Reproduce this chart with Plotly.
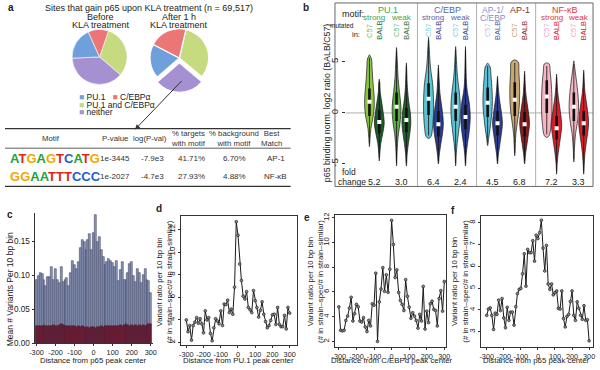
import plotly.graph_objects as go

W, H = 600, 370
FONT = "Liberation Sans, Arial, Helvetica, sans-serif"


def px(x, y):
    return x / W, 1 - y / H


def pxx(x):
    return x / W


def pxy(y):
    return 1 - y / H


# ---------------- Panel a data ----------------
pie_labels = ["PU.1 and C/EBPα", "neither", "PU.1", "C/EBPα"]
pie_before = [31, 38, 19, 12]
pie_after = [32.5, 27.5, 19, 21]
pie_colors = ["#c6da80", "#a591d1", "#6fa0dc", "#eb7676"]

table_headers = ["Motif", "P-value", "log(P-val)", "% targets<br>with motif",
                 "% background<br>with motif", "Best<br>Match"]
motif_seqs = ["ATGAGTCATG", "GGAATTTCCC"]
p_values = ["1e-3445", "1e-2027"]
log_p = ["-7.9e3", "-4.7e3"]
pct_targets = ["41.71%", "27.93%"]
pct_background = ["6.70%", "4.88%"]
best_match = ["AP-1", "NF-κB"]
base_colors = {"A": "#22a338", "C": "#1f62c8", "G": "#f4a700", "T": "#e2241e"}

# ---------------- Panel b data ----------------
group_names = ["PU.1", "C/EBP", "AP-1/<br>C/EBP", "AP-1", "NF-κB"]
group_box = [0, 1, 2, 2, 3]
pair_group = [0, 0, 1, 1, 2, 3, 4, 4]
pair_strength = ["strong", "weak", "strong", "weak", "", "", "strong", "weak"]
fold_change = [5.2, 3.0, 6.4, 2.4, 4.5, 6.8, 7.2, 3.3]
strain_labels = ["C57", "BALB"]
group_color = ["#3ea24c", "#5866a8", "#8a8cc8", "#8a2c1e", "#e2333b"]
c57_label_color = ["#7cc45a", "#7dcfdc", "#bdbfe8", "#c9a062", "#f3a6b8"]
balb_label_color = ["#2a6a36", "#2e3c8c", "#4a5aa0", "#7a1e1e", "#d4202a"]
violin_fill = ["#8cc63f", "#1d5b2b", "#5fae45", "#24602e",
               "#5bc3d3", "#2a3a8f", "#5bc3d3", "#2a3a8f",
               "#5bc0d8", "#2d3d90", "#c9a875", "#8b1c1c",
               "#f4b6c2", "#d9202a", "#f4b6c2", "#d9202a"]

violin_y = [
    [-3.3, -2.5, -1.5, -0.5, 0.5, 1.5, 2.5, 3.5, 4.5, 5.3, 5.7],
    [-4.7, -4.0, -3.0, -2.0, -1.0, 0.0, 1.0, 2.0, 3.0, 3.3],
    [-5.2, -4.5, -3.0, -2.0, -1.0, 0.5, 2.0, 3.5, 5.0, 6.4],
    [-5.2, -4.0, -3.0, -2.0, -1.0, 0.0, 1.0, 2.5, 4.0, 4.9],
    [-2.5, -2.3, -1.5, 0.0, 1.5, 3.0, 4.0, 5.0, 6.5, 7.4],
    [-5.0, -4.0, -3.0, -2.0, -1.0, 0.0, 1.0, 2.0, 3.5, 4.7],
    [-5.2, -4.0, -3.0, -2.0, -1.0, 0.5, 2.0, 3.0, 4.0, 5.5, 6.5],
    [-5.2, -4.0, -3.0, -2.0, -0.5, 1.0, 2.0, 3.0, 5.0, 6.5],
    [-3.2, -2.5, -1.5, 0.0, 1.0, 2.5, 3.5, 4.5, 4.9],
    [-5.0, -4.0, -3.0, -2.0, -1.0, 0.0, 1.0, 2.0, 3.6],
    [-4.2, -3.0, -2.0, -1.0, 0.0, 1.0, 2.0, 3.0, 4.0, 5.0, 5.2],
    [-5.0, -4.0, -3.0, -2.0, -1.0, 0.0, 1.0, 2.0, 4.1],
    [-2.4, -2.2, -1.0, 0.0, 1.5, 3.0, 4.0, 4.8, 4.9],
    [-6.0, -5.0, -4.0, -3.0, -2.0, -1.2, 0.0, 1.0, 2.0, 3.8],
    [-4.8, -3.5, -2.0, -1.0, 0.5, 2.0, 3.0, 4.0, 5.1],
    [-6.0, -5.0, -4.0, -3.0, -2.0, -1.0, 0.0, 1.0, 2.0, 3.0, 4.2],
]
violin_hw = [
    [0, 0.6, 1.5, 3.5, 4.8, 4.8, 4.0, 3.2, 2.6, 2.0, 0],
    [0, 0.5, 1.5, 3.5, 5.0, 4.0, 2.5, 1.0, 0.5, 0],
    [0, 0.3, 1.0, 2.0, 3.5, 4.5, 3.0, 1.5, 0.8, 0],
    [0, 0.8, 2.0, 3.5, 4.5, 4.0, 2.5, 1.0, 0.4, 0],
    [0, 2.5, 4.0, 5.0, 5.0, 4.0, 2.5, 1.5, 0.6, 0],
    [0, 1.0, 2.5, 4.2, 5.0, 4.2, 2.8, 1.5, 0.6, 0],
    [0, 0.6, 1.5, 2.8, 4.0, 4.8, 3.8, 2.5, 1.5, 0.6, 0],
    [0, 0.8, 2.0, 3.5, 4.8, 3.8, 2.0, 1.0, 0.4, 0],
    [0, 1.0, 2.5, 4.2, 4.8, 4.3, 3.5, 2.5, 0],
    [0, 1.0, 2.5, 4.0, 5.0, 4.0, 2.5, 1.2, 0],
    [0, 0.6, 1.2, 2.5, 4.0, 4.8, 5.0, 4.8, 4.2, 3.5, 0],
    [0, 1.0, 2.5, 4.0, 5.0, 4.0, 2.5, 1.2, 0],
    [0, 2.5, 4.5, 5.2, 5.2, 4.5, 3.5, 2.5, 0],
    [0, 0.5, 1.5, 3.0, 4.5, 5.2, 4.0, 2.5, 1.2, 0],
    [0, 0.6, 1.8, 3.5, 4.8, 4.0, 2.8, 1.5, 0],
    [0, 0.5, 1.2, 2.5, 4.0, 5.0, 4.2, 2.8, 1.3, 0.6, 0],
]
violin_median = [1.1, -0.9, 0.6, -0.7, 1.4, -1.1, 0.6, -0.4,
                 1.0, -1.0, 1.3, -1.1, 1.6, -1.5, 0.6, -1.0]
violin_q1 = [-0.3, -2.0, -0.8, -1.9, -0.2, -2.3, -0.8, -1.6,
             -0.4, -2.2, -0.3, -2.3, 0.0, -2.6, -0.8, -2.2]
violin_q3 = [2.4, 0.3, 2.0, 0.5, 2.9, 0.2, 2.0, 0.8,
             2.5, 0.2, 3.0, 0.1, 3.2, -0.3, 2.0, 0.2]

# ---------------- Panel c-f data ----------------
distance = list(range(-300, 301, 10))
variants_all = [
    0.093, 0.0995, 0.103, 0.102, 0.093, 0.085, 0.098, 0.098, 0.113, 0.094,
    0.109, 0.094, 0.089, 0.113, 0.091, 0.094, 0.096, 0.084, 0.104, 0.122,
    0.116, 0.110, 0.120, 0.140, 0.152, 0.150, 0.137, 0.153, 0.161, 0.138,
    0.162, 0.189, 0.149, 0.157, 0.137, 0.127, 0.115, 0.120, 0.125, 0.121,
    0.118, 0.113, 0.121, 0.092, 0.108, 0.120, 0.093, 0.093, 0.104, 0.117,
    0.120, 0.100, 0.091, 0.110, 0.104, 0.089, 0.101, 0.109, 0.093, 0.092, 0.075,
]
variants_bg = [
    0.026, 0.026, 0.025, 0.026, 0.027, 0.026, 0.026, 0.025, 0.026, 0.027,
    0.026, 0.025, 0.027, 0.028, 0.027, 0.026, 0.026, 0.025, 0.025, 0.026,
    0.025, 0.024, 0.025, 0.024, 0.025, 0.024, 0.023, 0.024, 0.023, 0.024,
    0.024, 0.023, 0.024, 0.024, 0.025, 0.024, 0.025, 0.026, 0.025, 0.026,
    0.025, 0.026, 0.025, 0.026, 0.027, 0.026, 0.027, 0.028, 0.027, 0.026,
    0.027, 0.026, 0.027, 0.026, 0.027, 0.026, 0.027, 0.026, 0.027, 0.028, 0.029,
]
ratio_pu1 = [
    4.0, 2.95, 3.5, 2.2, 3.5, 3.8, 4.2, 3.7, 4.1, 3.65,
    2.85, 4.8, 4.0, 4.2, 2.8, 2.15, 3.3, 4.1, 3.9, 3.65,
    4.8, 3.5, 5.4, 5.35, 5.75, 4.65, 4.95, 4.5, 6.9, 12.7,
    11.5, 8.95, 7.5, 6.1, 5.85, 6.5, 5.1, 4.9, 4.65, 6.6,
    5.7, 5.1, 4.25, 4.85, 5.6, 4.5, 3.85, 3.3, 3.5, 3.95,
    4.45, 4.5, 3.6, 5.1, 3.6, 3.4, 3.4, 4.4, 3.2, 5.1, 4.6,
]
ratio_cebp = [
    4.8, 2.9, 2.85, 2.9, 3.7, 4.05, 4.7, 5.57, 3.65, 4.24,
    5.0, 4.8, 3.65, 3.57, 3.92, 3.17, 2.8, 3.7, 3.25, 5.04,
    4.93, 7.52, 2.0, 5.2, 6.24, 7.97, 6.05, 7.39, 5.97, 7.84,
    11.8, 9.84, 7.17, 7.79, 5.97, 5.31, 5.0, 4.5, 7.0, 5.65,
    4.77, 3.87, 4.32, 4.05, 3.7, 3.07, 4.19, 3.65, 6.45, 3.0,
    4.45, 3.52, 5.04, 5.25, 4.59, 4.5, 3.25, 5.47, 6.11, 4.45, 6.85,
]
ratio_p65 = [
    3.75, 4.04, 4.09, 3.75, 3.1, 3.85, 3.79, 4.45, 3.97, 4.52,
    3.63, 3.18, 4.12, 3.52, 3.9, 3.9, 3.3, 4.15, 4.75, 4.94,
    4.99, 5.66, 6.58, 5.09, 6.78, 6.63, 6.63, 7.18, 6.24, 7.43,
    7.28, 7.55, 8.12, 6.84, 5.79, 6.96, 5.19, 4.94, 5.19, 4.69,
    4.79, 4.87, 4.07, 4.04, 4.87, 3.6, 3.22, 3.7, 3.79, 4.39,
    4.87, 3.75, 3.52, 4.37, 4.07, 3.75, 3.57, 4.19, 3.52, 3.55, 2.58,
]
xticks = [-300, -200, -100, 0, 100, 200, 300]
xticklabels = ["-300", "-200", "-100", "0", "100", "200", "300"]

# =====================================================
fig = go.Figure()
annotations = []
shapes = []


def ann(x, y, text, size=9, color="#222", xanchor="center", yanchor="middle",
        angle=0, bold=False, xref="paper", yref="paper", family=FONT):
    if bold:
        text = "<b>" + text + "</b>"
    annotations.append(dict(x=x, y=y, xref=xref, yref=yref, text=text,
                            showarrow=False, xanchor=xanchor, yanchor=yanchor,
                            textangle=angle,
                            font=dict(size=size, color=color, family=family)))


# ---------------- Panel a: pies ----------------
fig.add_trace(go.Pie(values=pie_before, labels=pie_labels, sort=False,
                     direction="clockwise", rotation=19, textinfo="none",
                     marker=dict(colors=pie_colors, line=dict(color="white", width=0.6)),
                     domain=dict(x=[pxx(68), pxx(124)], y=[pxy(84), pxy(28)]),
                     hoverinfo="skip", showlegend=False))
fig.add_trace(go.Pie(values=pie_after, labels=pie_labels, sort=False,
                     direction="clockwise", rotation=13, textinfo="none",
                     pull=[0, 0.17, 0, 0],
                     marker=dict(colors=pie_colors, line=dict(color="white", width=1.2)),
                     domain=dict(x=[pxx(141), pxx(213)], y=[pxy(92), pxy(22)]),
                     hoverinfo="skip", showlegend=False))

ann(*px(6, 6), "a", size=10, bold=True)
ann(*px(146, 6), "Sites that gain p65 upon KLA treatment (n = 69,517)", size=9)
ann(*px(97, 15), "Before", size=9)
ann(*px(97, 23), "KLA treatment", size=9)
ann(*px(177, 15), "After 1 h", size=9)
ann(*px(177, 23), "KLA treatment", size=9)


def sq(c):
    return f"<span style='color:{c}'>■</span>"


ann(*px(73, 97), f"{sq(pie_colors[2])} {pie_labels[2]}   {sq(pie_colors[3])} {pie_labels[3]}",
    size=8.5, xanchor="left")
ann(*px(73, 104.5), f"{sq(pie_colors[0])} {pie_labels[0]}", size=8.5, xanchor="left")
ann(*px(73, 112), f"{sq(pie_colors[1])} {pie_labels[1]}", size=8.5, xanchor="left")

annotations.append(dict(x=pxx(132), y=pxy(130), xref="paper", yref="paper",
                        ax=48, ay=-50, text="", showarrow=True, arrowhead=2,
                        arrowsize=1, arrowwidth=1, arrowcolor="#333"))

# table
for yy, w in [(129, 1.2), (149, 0.8), (188, 1.2)]:
    shapes.append(dict(type="line", xref="paper", yref="paper",
                       x0=0, x1=pxx(290), y0=pxy(yy), y1=pxy(yy),
                       line=dict(color="#333", width=w)))
head_x = [47, 112, 147, 186, 232, 271]
row_x = [112, 150, 189, 233, 275]
for cx, h in zip(head_x, table_headers):
    ann(*px(cx, 139), h, size=7.8, color="#333")
row_y = [160, 178]
for i, ry in enumerate(row_y):
    logo = "".join(f"<span style='color:{base_colors[ch]}'>{ch}</span>" for ch in motif_seqs[i])
    ann(*px(3, ry), logo, size=13, xanchor="left", bold=True,
        family="Liberation Sans Narrow, Arial Narrow, Liberation Sans, sans-serif")
    for cx, val in zip(row_x, [p_values[i], log_p[i], pct_targets[i],
                               pct_background[i], best_match[i]]):
        ann(*px(cx, ry), val, size=8, color="#333")

# ---------------- Panel b: violins ----------------
pair_x = []
xcur = 2.9
for i in range(len(pair_group)):
    if i > 0:
        diff_box = group_box[pair_group[i]] != group_box[pair_group[i - 1]]
        step = 3.25 if diff_box else 2.75
        if diff_box:
            shapes.append(dict(type="line", xref="x", yref="paper",
                               x0=xcur + step / 2, x1=xcur + step / 2,
                               y0=pxy(188), y1=pxy(1), layer="below",
                               line=dict(color="#b0b0b0", width=1)))
        xcur += step
    pair_x.append(xcur)
shapes.append(dict(type="line", xref="x", yref="y", x0=0, x1=25.1, y0=0, y1=0,
                   layer="below", line=dict(color="#b0b0b0", width=1)))
shapes.append(dict(type="rect", xref="paper", yref="paper",
                   x0=pxx(335), x1=pxx(597), y0=pxy(188), y1=pxy(1),
                   line=dict(color="#666", width=1)))

violin_x = []
for cx in pair_x:
    violin_x += [cx - 0.5, cx + 0.5]

for k in range(len(violin_x)):
    cx = violin_x[k]
    ys = violin_y[k]
    ws = [w / 10 for w in violin_hw[k]]
    xs = [cx + w for w in ws] + [cx - w for w in reversed(ws)]
    yy = ys + list(reversed(ys))
    fig.add_trace(go.Scatter(x=xs, y=yy, mode="lines", fill="toself",
                             fillcolor=violin_fill[k],
                             line=dict(color="#1a1a1a", width=0.7, shape="spline"),
                             xaxis="x", yaxis="y", hoverinfo="skip", showlegend=False))
    fig.add_trace(go.Scatter(x=[cx, cx], y=[ys[0] + 0.3, ys[-1] - 0.3], mode="lines",
                             line=dict(color="#111", width=0.8),
                             xaxis="x", yaxis="y", hoverinfo="skip", showlegend=False))
    fig.add_trace(go.Scatter(x=[cx, cx], y=[violin_q1[k], violin_q3[k]], mode="lines",
                             line=dict(color="#111", width=2.6),
                             xaxis="x", yaxis="y", hoverinfo="skip", showlegend=False))
    fig.add_trace(go.Scatter(x=[cx], y=[violin_median[k]], mode="markers",
                             marker=dict(symbol="square", size=4, color="white",
                                         line=dict(width=0)),
                             xaxis="x", yaxis="y", hoverinfo="skip", showlegend=False))

ann(*px(306, 6), "b", size=10, bold=True)
ann(pxx(366), pxy(12), "motif:", size=9, xanchor="right")
ann(pxx(356), pxy(24), "mutated", size=6.5, xanchor="right")
ann(pxx(362), pxy(33), "in:", size=7.5, xanchor="right")

for g in range(len(group_names)):
    members = [i for i in range(len(pair_group)) if pair_group[i] == g]
    gx = sum(pair_x[i] for i in members) / len(members)
    if "<br>" in group_names[g]:
        parts = group_names[g].split("<br>")
        ann(gx, pxy(8), parts[0], size=8.5, color=group_color[g], xref="x")
        ann(gx, pxy(16), parts[1], size=8.5, color=group_color[g], xref="x")
    else:
        ann(gx, pxy(8), group_names[g], size=9, color=group_color[g], xref="x")

for i, cx in enumerate(pair_x):
    g = pair_group[i]
    if pair_strength[i]:
        ann(cx, pxy(16), pair_strength[i], size=8, color=group_color[g], xref="x")
    ann(cx - 0.5, pxy(29), strain_labels[0], size=7.5, color=c57_label_color[g],
        xref="x", angle=-90)
    ann(cx + 0.5, pxy(29), strain_labels[1], size=7.5, color=balb_label_color[g],
        xref="x", angle=-90)
    ann(cx, pxy(183), f"{fold_change[i]:.1f}", size=9, color="#222", xref="x")

ann(pxx(349), pxy(173), "fold", size=8.5)
ann(pxx(352), pxy(183), "change", size=8.5)
ann(pxx(327), pxy(103), "p65 binding norm. log2 ratio (BALB/C57)", size=8.8, angle=-90)

# ---------------- Panel c: bars ----------------
fig.add_trace(go.Bar(x=distance, y=variants_all, width=10,
                     marker=dict(color="#8c96b6", line=dict(color="#2e3350", width=0.5)),
                     xaxis="x2", yaxis="y2", hoverinfo="skip", showlegend=False))
fig.add_trace(go.Bar(x=distance, y=variants_bg, width=10,
                     marker=dict(color="#6b1d35", line=dict(color="#4f1527", width=0.4)),
                     xaxis="x2", yaxis="y2", hoverinfo="skip", showlegend=False))

ann(*px(5, 217), "c", size=10, bold=True)
ann(*px(6, 293), "Mean # Variants Per 10 bp bin", size=8.5, angle=-90)
ann(*px(90, 365.5), "Distance from p65 peak center", size=7.8)

# ---------------- Panels d,e,f: lines ----------------
line_sets = [
    (ratio_pu1, "x3", "y3"),
    (ratio_cebp, "x4", "y4"),
    (ratio_p65, "x5", "y5"),
]
for vals, xa, ya in line_sets:
    fig.add_trace(go.Scatter(x=distance, y=vals, mode="lines+markers",
                             line=dict(color="#1a1a1a", width=1),
                             marker=dict(symbol="circle", size=2.8, color="#888",
                                         line=dict(color="#111", width=0.6)),
                             xaxis=xa, yaxis=ya, hoverinfo="skip", showlegend=False))

ytitle = "Variant ratio per 10 bp bin<br>(# in strain–spec/# in strain–similar)"
ann(*px(156, 210), "d", size=10, bold=True)
ann(*px(162, 285), ytitle, size=7.8, angle=-90)
ann(*px(237, 365.5), "Distance from PU.1 peak center", size=7.8)
ann(*px(307, 220), "e", size=10, bold=True)
ann(*px(315, 285), ytitle, size=7.8, angle=-90)
ann(*px(392, 365.5), "Distance from C/EBPα peak center", size=7.8)
ann(*px(455, 213), "f", size=10, bold=True)
ann(*px(462, 285), ytitle, size=7.8, angle=-90)
ann(*px(540, 365.5), "Distance from p65 peak center", size=7.8)

tickfont = dict(size=7.3, family=FONT, color="#222")


def box_axis(dom, rng, **kw):
    d = dict(domain=dom, range=rng, showgrid=False, zeroline=False, showline=True,
             linecolor="#333", linewidth=1, ticks="outside", ticklen=2,
             tickcolor="#333", tickfont=tickfont, tickangle=0)
    d.update(kw)
    return d


layout = dict(
    width=W, height=H, margin=dict(l=0, r=0, t=0, b=0),
    paper_bgcolor="white", plot_bgcolor="rgba(0,0,0,0)", showlegend=False,
    barmode="overlay", bargap=0,
    font=dict(family=FONT, size=9, color="#222"),
    xaxis=box_axis([pxx(346), pxx(597)], [0, 25.1], showline=False,
                   showticklabels=False, ticks=""),
    yaxis=box_axis([pxy(188), pxy(1)], [-7.2, 10.77], showline=False,
                   tickvals=[-5, 0, 5], ticktext=["-5", "0", "5"], tickangle=-90,
                   ticklen=3, tickfont=dict(size=9.5, family=FONT, color="#222")),
    xaxis2=box_axis([pxx(30), pxx(150)], [-310, 310], tickvals=xticks,
                    ticktext=xticklabels, anchor="y2"),
    yaxis2=box_axis([pxy(348), pxy(215)], [0, 0.192], tickvals=[0, 0.05, 0.10, 0.15],
                    tickformat=".2f", anchor="x2", tickfont=dict(size=8.2, family=FONT,
                                                                  color="#222")),
    xaxis3=box_axis([pxx(179), pxx(296)], [-329, 340], tickvals=xticks,
                    ticktext=xticklabels, mirror=True, anchor="y3"),
    yaxis3=box_axis([pxy(350), pxy(218)], [1.74, 13.22], tickvals=[2, 4, 6, 8, 10, 12],
                    tickangle=-90, mirror=True, anchor="x3",
                    tickfont=dict(size=7.8, family=FONT, color="#222")),
    xaxis4=box_axis([pxx(335), pxx(448)], [-322, 311], tickvals=xticks,
                    ticktext=xticklabels, mirror=True, anchor="y4"),
    yaxis4=box_axis([pxy(352), pxy(217)], [1.52, 12.24], tickvals=[2, 4, 6, 8, 10, 12],
                    tickangle=-90, mirror=True, anchor="x4",
                    tickfont=dict(size=7.8, family=FONT, color="#222")),
    xaxis5=box_axis([pxx(483), pxx(597)], [-335, 323], tickvals=xticks,
                    ticktext=xticklabels, mirror=True, anchor="y5"),
    yaxis5=box_axis([pxy(352), pxy(218)], [2.28, 8.32], tickvals=[3, 4, 5, 6, 7, 8],
                    tickangle=-90, mirror=True, anchor="x5",
                    tickfont=dict(size=7.8, family=FONT, color="#222")),
    annotations=annotations,
    shapes=shapes,
)
fig.update_layout(**layout)
fig.write_html("out.html", config={"displayModeBar": False},
               post_script="document.body.style.margin='0px';"
                           "document.body.style.padding='0px';"
                           "document.body.style.overflow='hidden';")
